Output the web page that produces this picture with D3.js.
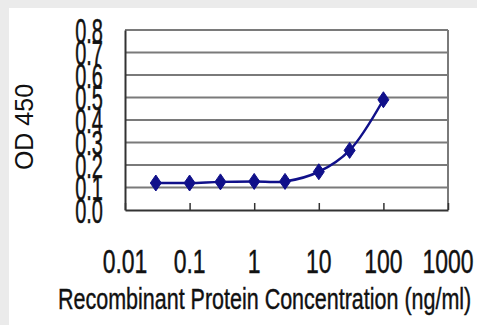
<!DOCTYPE html>
<html><head><meta charset="utf-8">
<script src="https://cdn.jsdelivr.net/npm/d3@7"></script>
<style>html,body{margin:0;padding:0;background:#ebebeb;}svg{display:block;}</style>
</head><body>
<script>
const concentrations = [0.03, 0.1, 0.3, 1, 3, 10, 30, 100];
const odValues = [0.12, 0.12, 0.125, 0.127, 0.127, 0.17, 0.265, 0.49];
const xTicks = [0.01, 0.1, 1, 10, 100, 1000];
const xTickLabels = ["0.01", "0.1", "1", "10", "100", "1000"];
const yTicks = [0, 0.1, 0.2, 0.3, 0.4, 0.5, 0.6, 0.7, 0.8];
const yTickLabels = ["0.0", "0.1", "0.2", "0.3", "0.4", "0.5", "0.6", "0.7", "0.8"];
const xTitle = "Recombinant Protein Concentration (ng/ml)";
const yTitle = "OD 450";

const W = 477, H = 325;
const svg = d3.select("body").append("svg").attr("width", W).attr("height", H);
svg.append("rect").attr("x", 9).attr("y", 8).attr("width", W - 9).attr("height", H - 8).attr("fill", "#fff");

const L = 125, R = 448, T = 30, B = 210;
const x = d3.scaleLog().domain([0.01, 1000]).range([L, R]);
const y = d3.scaleLinear().domain([0, 0.8]).range([B, T]);
const font = "Arial, 'Liberation Sans', sans-serif";

// gridlines
svg.append("g").selectAll("line").data(yTicks.filter(d => d > 0)).join("line")
  .attr("x1", L).attr("x2", R).attr("y1", d => y(d)).attr("y2", d => y(d))
  .attr("stroke", "#7a7a7a").attr("stroke-width", 2);
// right border
svg.append("line").attr("x1", R).attr("x2", R).attr("y1", T).attr("y2", B)
  .attr("stroke", "#7a7a7a").attr("stroke-width", 2);

// axes
const xAxis = d3.axisBottom(x).tickValues(xTicks).tickFormat("").tickSizeInner(-7).tickSizeOuter(0);
const gx = svg.append("g").attr("transform", `translate(0,${B})`).call(xAxis);
gx.select(".domain").attr("stroke", "#333").attr("stroke-width", 2);
gx.selectAll(".tick line").attr("stroke", "#333").attr("stroke-width", 1.5);
const yAxis = d3.axisLeft(y).tickValues(yTicks).tickFormat("").tickSize(0);
const gy = svg.append("g").attr("transform", `translate(${L},0)`).call(yAxis);
gy.select(".domain").attr("stroke", "#333").attr("stroke-width", 2);

// y tick labels (tall, narrow)
svg.append("g").selectAll("text").data(yTicks).join("text")
  .attr("transform", d => `translate(103,${y(d) + 12.5}) scale(1,1.75)`)
  .attr("text-anchor", "end")
  .attr("font-family", font).attr("font-size", 20)
  .attr("fill", "#111").attr("stroke", "#111").attr("stroke-width", 0.3)
  .text((d, i) => yTickLabels[i]);

// x tick labels
svg.append("g").selectAll("text").data(xTicks).join("text")
  .attr("transform", d => `translate(${x(d)},273) scale(1,1.45)`)
  .attr("text-anchor", "middle")
  .attr("font-family", font).attr("font-size", 23)
  .attr("fill", "#111").attr("stroke", "#111").attr("stroke-width", 0.3)
  .text((d, i) => xTickLabels[i]);

// x title
svg.append("text").attr("transform", "translate(58,309) scale(1,1.4)")
  .attr("font-family", font).attr("font-size", 21.5)
  .attr("fill", "#111").attr("stroke", "#111").attr("stroke-width", 0.3).text(xTitle);

// y title
svg.append("text").attr("transform", "translate(33,127) rotate(-90)")
  .attr("text-anchor", "middle").attr("font-family", font).attr("font-size", 25)
  .attr("fill", "#111").text(yTitle);

// line
const pts = concentrations.map((c, i) => [c, odValues[i]]);
svg.append("path").datum(pts)
  .attr("d", d3.line().x(d => x(d[0])).y(d => y(d[1])).curve(d3.curveCatmullRom.alpha(0.5)))
  .attr("fill", "none").attr("stroke", "#10108a").attr("stroke-width", 2.5);

// diamond markers
svg.append("g").selectAll("path").data(pts).join("path")
  .attr("transform", d => `translate(${x(d[0])},${y(d[1])})`)
  .attr("d", "M0,-8L5.5,0L0,8L-5.5,0Z")
  .attr("fill", "#10108a").attr("stroke", "#10108a").attr("stroke-width", 1);
</script>
</body></html>
